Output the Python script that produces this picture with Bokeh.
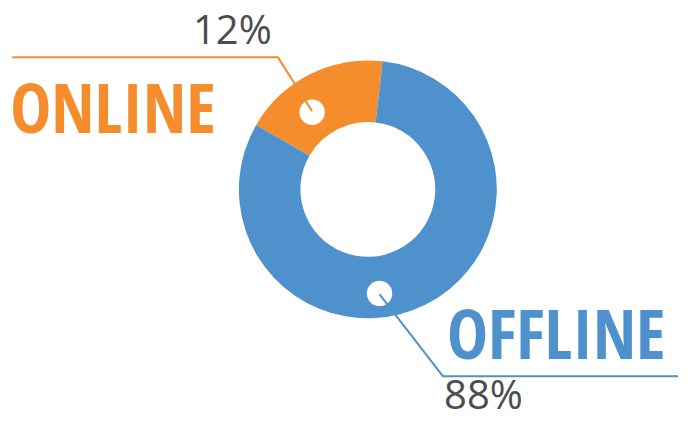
import math
from bokeh.plotting import figure
from bokeh.models import Range1d, ColumnDataSource
from bokeh.core.properties import value
from bokeh.embed import file_html
from bokeh.resources import INLINE

# ---- data ----
categories = ["ONLINE", "OFFLINE"]
pct_labels = ["12%", "88%"]
drawn_share = [18.5, 81.5]          # slice sizes as drawn in the source graphic
colors = ["#F58D2C", "#4F91CD"]

# ---- geometry (reference pixel space 694x439; y flipped to data space) ----
W, H = 694, 439
def fy(y):
    return H - y

cx, cy = 376, fy(196)
r_in, r_out = 69, 132
start_deg = 83.4

total = sum(drawn_share)
starts, ends = [], []
a = math.radians(start_deg)
for s in drawn_share:
    starts.append(a)
    a += 2 * math.pi * s / total
    ends.append(a)

src = ColumnDataSource(dict(cat=categories, start=starts, end=ends, color=colors))

p = figure(width=678, height=423, x_range=Range1d(0, W), y_range=Range1d(0, H),
           output_backend="svg", toolbar_location=None, min_border=0,
           x_axis_location=None, y_axis_location=None)
p.grid.visible = False
p.outline_line_color = None
p.background_fill_color = "white"
p.border_fill_color = "white"

p.annular_wedge(x=cx, y=cy, inner_radius=r_in, outer_radius=r_out,
                start_angle="start", end_angle="end", fill_color="color",
                line_color=None, source=src)

# marker dots
p.circle(x=[319, 388], y=[fy(116), fy(304)], radius=13,
         fill_color="white", line_color=None)

# leader lines
p.line(x=[319, 284, 12], y=[fy(115), fy(59), fy(59)], line_color=colors[0], line_width=2)
p.line(x=[388, 453, 694], y=[fy(305), fy(390), fy(390)], line_color=colors[1], line_width=2)

# labels (baseline offsets compensate the renderer's text box descent)
big_off, small_off = 27, 16
big = dict(text_font=value("Open Sans Condensed"), text_font_style="bold",
           text_font_size="69px", text_baseline="alphabetic", text_align="left")
small = dict(text_font=value("Open Sans"), text_font_size="40px", text_color="#4D4D4D",
             text_baseline="alphabetic", text_align="left")
p.text(x=[10], y=[fy(137) + big_off], text=[categories[0]], text_color=colors[0], **big)
p.text(x=[457], y=[fy(371) + big_off], text=[categories[1]], text_color=colors[1], **big)
p.text(x=[197], y=[fy(45) + small_off], text=[pct_labels[0]], **small)
p.text(x=[454], y=[fy(424) + small_off], text=[pct_labels[1]], **small)

open("out.html", "w").write(file_html(p, INLINE))
